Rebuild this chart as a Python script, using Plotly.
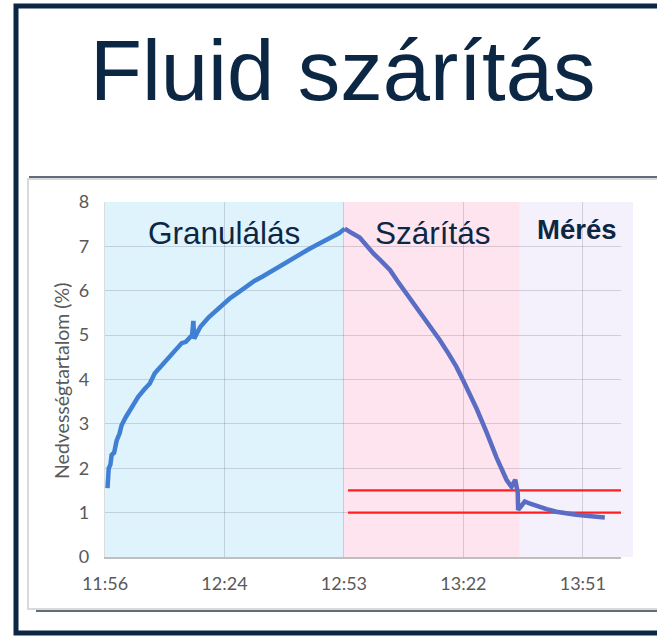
import plotly.graph_objects as go

W, H = 657, 639

# ---------------- data ----------------
# time in minutes after 11:56, moisture content in %
gran_t = [0.6, 0.9, 1.3, 1.6, 2.2, 2.8, 3.5, 4.0, 5.0, 6.0, 7.0, 8.0, 9.5, 10.8,
          12.0, 14.0, 16.0, 17.3, 18.5, 19.5, 20.5, 21.0, 21.3, 21.5, 22.2, 23.0,
          25.0, 27.7, 30.0, 32.0, 34.1, 36.0, 38.0, 40.6, 43.0, 45.0, 47.0, 49.0,
          51.0, 53.4, 55.0, 56.5, 57.8]
gran_v = [1.55, 2.00, 2.08, 2.30, 2.35, 2.62, 2.78, 2.97, 3.15, 3.31, 3.45, 3.61, 3.78, 3.91,
          4.14, 4.35, 4.55, 4.66, 4.82, 4.85, 4.97, 5.00, 5.32, 4.92, 5.05, 5.19,
          5.40, 5.64, 5.82, 5.95, 6.09, 6.22, 6.32, 6.47, 6.60, 6.72, 6.84, 6.93,
          7.03, 7.14, 7.22, 7.30, 7.40]

dry_t = [57.8, 58.5, 59.5, 61.4, 63.0, 64.7, 66.5, 68.7, 70.5, 72.7, 74.5, 76.7,
         78.5, 80.7, 82.7, 84.7, 86.3, 88.4, 89.6, 92.0, 94.4, 96.8, 98.0, 98.9,
         99.2, 99.5, 99.6, 100.0, 100.4, 101.2, 102.5, 104.0, 106.5, 108.8, 111.0,
         113.6, 116.0, 117.7, 120.5]
dry_v = [7.40, 7.35, 7.30, 7.20, 7.02, 6.84, 6.68, 6.47, 6.22, 5.94, 5.70, 5.42,
         5.17, 4.89, 4.60, 4.29, 3.99, 3.61, 3.34, 2.81, 2.24, 1.74, 1.58, 1.74,
         1.51, 1.45, 1.06, 1.10, 1.17, 1.25, 1.20, 1.15, 1.08, 1.02, 0.98,
         0.95, 0.93, 0.91, 0.89]

limit_values = [1.5, 1.0]
limit_span = [58.6, 124.4]

x_tick_vals = [0, 28.8, 57.6, 86.4, 115.2]
x_tick_text = ["11:56", "12:24", "12:53", "13:22", "13:51"]
y_tick_vals = [0, 1, 2, 3, 4, 5, 6, 7, 8]

phase_names = ["Granulálás", "Szárítás", "Mérés"]
phase_bounds = [0, 57.6, 100.0, 127.3]
phase_colors = ["#dff3fd", "#fde4ee", "#f4f0fc"]

title_text = "Fluid szárítás"
y_title = "Nedvességtartalom (%)"

# ---------------- layout helpers ----------------
X_RANGE = [0, 124.4]
Y_RANGE = [0, 8]
XD = [105 / W, 621 / W]
YD = [1 - 557 / H, 1 - 202 / H]


def px(x):
    return x / W


def py(y):
    return 1 - y / H


def t2p(t):
    return XD[0] + (t - X_RANGE[0]) / (X_RANGE[1] - X_RANGE[0]) * (XD[1] - XD[0])


def v2p(v):
    return YD[0] + (v - Y_RANGE[0]) / (Y_RANGE[1] - Y_RANGE[0]) * (YD[1] - YD[0])


fig = go.Figure()

# threshold lines
for lv in limit_values:
    fig.add_trace(go.Scatter(x=limit_span, y=[lv, lv], mode="lines",
                             line=dict(color="#ff1f1f", width=2.2),
                             hoverinfo="skip", showlegend=False))

fig.add_trace(go.Scatter(x=gran_t, y=gran_v, mode="lines",
                         line=dict(color="#3f7fd4", width=4.5),
                         showlegend=False))
fig.add_trace(go.Scatter(x=dry_t, y=dry_v, mode="lines",
                         line=dict(color="#5a6cc3", width=4.5),
                         showlegend=False))

shapes = []
# phase backgrounds
for i in range(3):
    shapes.append(dict(type="rect", xref="paper", yref="paper",
                       x0=t2p(phase_bounds[i]), x1=t2p(phase_bounds[i + 1]),
                       y0=v2p(0), y1=v2p(8), fillcolor=phase_colors[i],
                       line=dict(width=0), layer="below"))

# outer frame
shapes.append(dict(type="rect", xref="paper", yref="paper",
                   x0=px(16), x1=px(668), y0=py(633), y1=py(6),
                   line=dict(color="#0c2744", width=5), fillcolor="rgba(0,0,0,0)"))
# picture border
shapes.append(dict(type="rect", xref="paper", yref="paper",
                   x0=px(28), x1=px(668), y0=py(609), y1=py(179),
                   line=dict(color="#dadada", width=2), fillcolor="rgba(0,0,0,0)"))
shapes.append(dict(type="line", xref="paper", yref="paper",
                   x0=px(29), x1=px(657), y0=py(177), y1=py(177),
                   line=dict(color="#2c3b50", width=1.5)))
shapes.append(dict(type="line", xref="paper", yref="paper",
                   x0=px(36), x1=px(657), y0=py(611), y1=py(611),
                   line=dict(color="#2c3b50", width=1.5)))

annotations = [
    dict(text=title_text, xref="paper", yref="paper", x=px(342), y=py(70),
         xanchor="center", yanchor="middle", showarrow=False,
         font=dict(family="Liberation Sans, Arial", size=85, color="#0c2744")),
    dict(text=y_title, xref="paper", yref="paper", x=px(62), y=py(381),
         xanchor="center", yanchor="middle", textangle=-90, showarrow=False,
         font=dict(family="Lato, Calibri, sans-serif", size=19.5, color="#595959")),
    dict(text=phase_names[0], xref="x", yref="y", x=28.7, y=7.3,
         xanchor="center", yanchor="middle", showarrow=False,
         font=dict(family="Liberation Sans, Arial", size=31.5, color="#0c2744")),
    dict(text=phase_names[1], xref="x", yref="y", x=79.0, y=7.3,
         xanchor="center", yanchor="middle", showarrow=False,
         font=dict(family="Liberation Sans, Arial", size=31.5, color="#0c2744")),
    dict(text="<b>" + phase_names[2] + "</b>", xref="x", yref="y", x=113.8, y=7.38,
         xanchor="center", yanchor="middle", showarrow=False,
         font=dict(family="Liberation Sans, Arial", size=27.5, color="#0c2744")),
]

grid_col = "rgba(70,70,95,0.2)"
fig.update_layout(
    width=W, height=H,
    margin=dict(l=0, r=0, t=0, b=0),
    paper_bgcolor="white", plot_bgcolor="rgba(0,0,0,0)",
    shapes=shapes, annotations=annotations,
    showlegend=False,
    xaxis=dict(domain=XD, range=X_RANGE, tickmode="array",
               tickvals=x_tick_vals, ticktext=x_tick_text,
               showgrid=True, gridcolor=grid_col, gridwidth=1.4,
               showline=True, linecolor="#bfbfbf", linewidth=1.5,
               zeroline=False, ticks="", ticklabelstandoff=10,
               tickfont=dict(family="Lato, Calibri, sans-serif", size=18, color="#595959"),
               automargin=False, fixedrange=True),
    yaxis=dict(domain=YD, range=Y_RANGE, tickmode="array", tickvals=y_tick_vals,
               showgrid=True, gridcolor=grid_col, gridwidth=1.4,
               showline=True, linecolor=grid_col, linewidth=1.4,
               zeroline=False, ticks="", ticklabelstandoff=11,
               tickfont=dict(family="Lato, Calibri, sans-serif", size=18, color="#595959"),
               automargin=False, fixedrange=True),
)

fig.write_html("out.html", config={"displayModeBar": False},
               post_script="document.body.style.margin='0';document.body.style.overflow='hidden';")
